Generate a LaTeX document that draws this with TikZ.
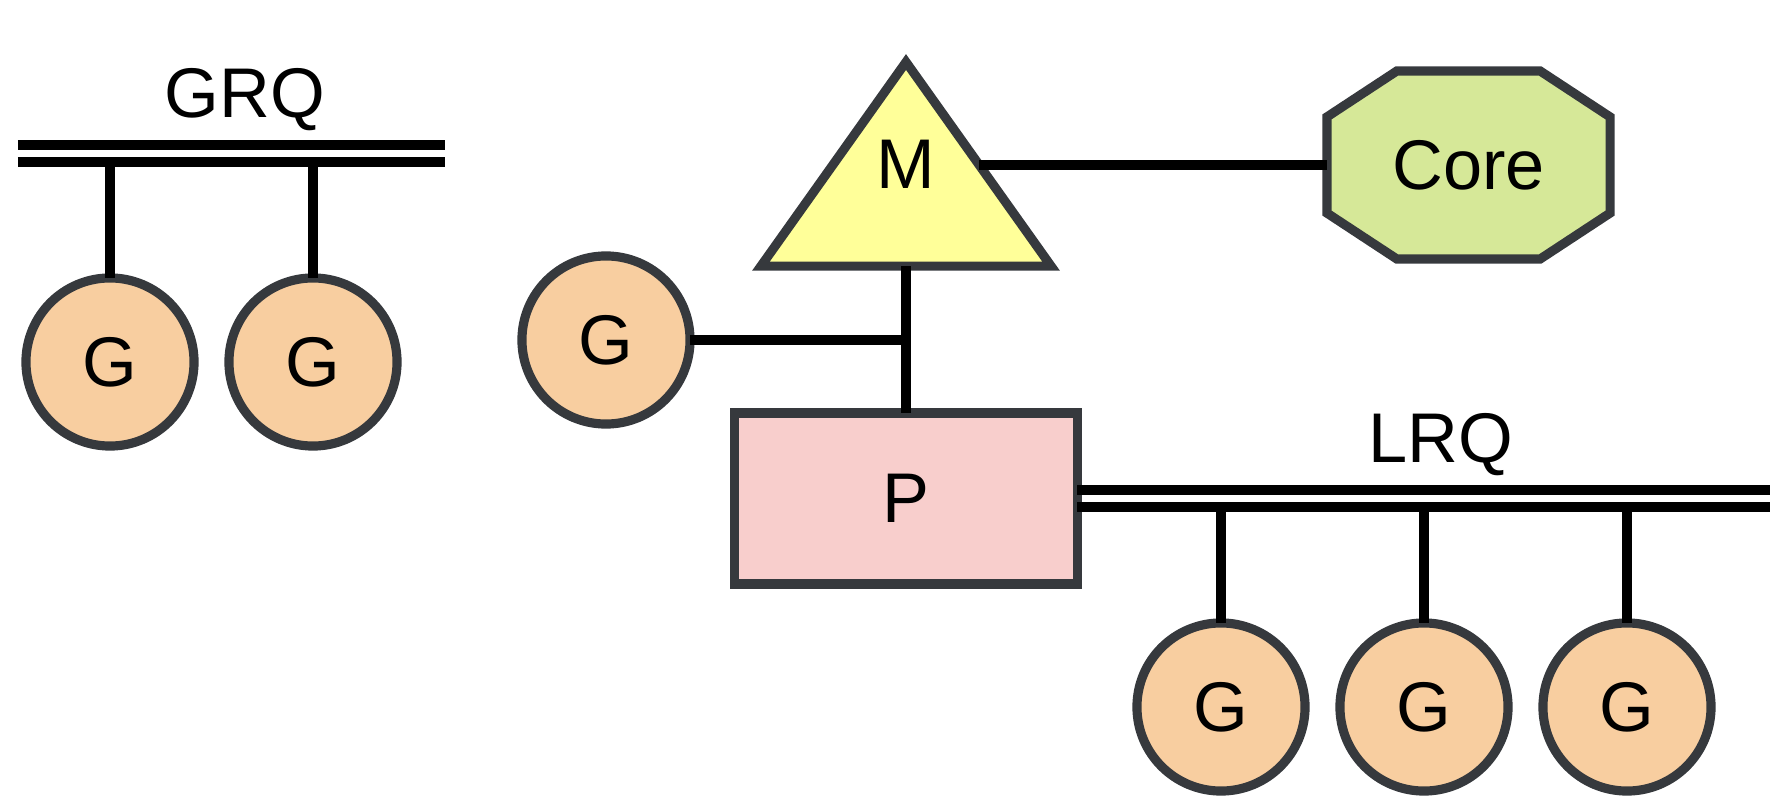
\documentclass[tikz,border=0pt]{standalone}
\usepackage{fontspec}
\setmainfont{Liberation Sans}
\usetikzlibrary{positioning,calc,shapes.geometric,backgrounds}
\definecolor{gpeach}{HTML}{F8CEA0}
\definecolor{myellow}{HTML}{FFFF99}
\definecolor{pcoral}{HTML}{F8CECC}
\definecolor{cgreen}{HTML}{D6E898}
\definecolor{gedge}{HTML}{36393D}
\tikzset{
  shp/.style={draw=gedge,line width=2.6pt,inner sep=0pt,outer sep=0pt,font=\fontsize{20}{23}\selectfont},
  gnode/.style={shp,circle,fill=gpeach,minimum size=1.68cm},
  mnode/.style={shp,isosceles triangle,isosceles triangle stretches,shape border rotate=90,fill=myellow,minimum width=2.90cm,minimum height=2.04cm},
  pnode/.style={shp,rectangle,fill=pcoral,minimum width=3.42cm,minimum height=1.71cm},
  corenode/.style={shp,draw=none,rectangle,minimum width=2.83cm,minimum height=1.88cm},
  octa/.style={draw=gedge,line width=2.6pt,fill=cgreen},
  queue/.style={inner sep=0pt,outer sep=0pt,minimum height=0.17cm},
  qline/.style={line width=2.8pt,draw=black},
  conn/.style={line width=2.6pt,draw=black},
  lbl/.style={font=\fontsize{20}{23}\selectfont,inner sep=0pt},
}
\begin{document}
\begin{tikzpicture}[x=0.01cm,y=-0.01cm]
  \useasboundingbox (0,0) rectangle (1790,806);
  \node[queue,minimum width=4.27cm] (grq) at (231.5,153.5) {};
  \draw[qline] (grq.north west) -- (grq.north east) (grq.south west) -- (grq.south east);
  \node[lbl] (grqlbl) at (245,100) {GRQ};
  \foreach \x [count=\i] in {110,313} {
    \node[gnode] (gq\i) at (\x,362) {G};
    \draw[conn] (gq\i) -- (gq\i |- grq.south);
  }
  \node[mnode,anchor=apex] (m) at (906,62) {};
  \node[lbl] (mlbl) at ($(m.left side)!0.5!(m.right side)$) {M};
  \node[pnode] (p) at (906,498.5) {P};
  \node[corenode] (core) at (1468.5,165) {Core};
  \begin{scope}[on background layer]
    \draw[octa] ($(core.north west)+(70,0)$) -- ($(core.north east)+(-70,0)$) -- ($(core.north east)+(0,46)$)
      -- ($(core.south east)+(0,-46)$) -- ($(core.south east)+(-70,0)$) -- ($(core.south west)+(70,0)$)
      -- ($(core.south west)+(0,-46)$) -- ($(core.north west)+(0,46)$) -- cycle;
  \end{scope}
  \node[gnode] (gm) at (606,340) {G};
  \draw[conn] (p.north) -- (m.lower side);
  \draw[conn] (core.west) -- (core.west -| m.right side);
  \draw[conn] (gm) -- (gm -| p.north);
  \node[queue,minimum width=6.92cm,anchor=west] (lrq) at (p.east) {};
  \draw[qline] (lrq.north west) -- (lrq.north east) (lrq.south west) -- (lrq.south east);
  \node[lbl] (lrqlbl) at (1441,445) {LRQ};
  \foreach \x [count=\i] in {1221,1424,1627} {
    \node[gnode] (gl\i) at (\x,707) {G};
    \draw[conn] (gl\i) -- (gl\i |- lrq.south);
  }
\end{tikzpicture}
\end{document}
